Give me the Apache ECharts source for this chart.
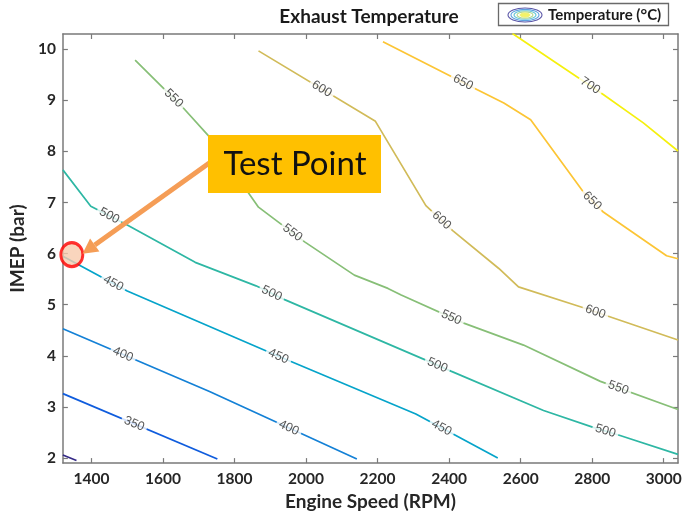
<!DOCTYPE html>
<html><head><meta charset="utf-8">
<script src="https://cdn.jsdelivr.net/npm/echarts@6/dist/echarts.min.js"></script>
<style>html,body{margin:0;padding:0;background:#fff}#c{width:697px;height:516px}</style>
</head><body><div id="c"></div>
<script>
// ---- data ----
const levels = [300, 350, 400, 450, 500, 550, 600, 650, 700];
const c300 = [[1320, 2.06], [1358, 1.95]];
const c350 = [[1320, 3.26], [1752, 1.98]];
const c400 = [[1320, 4.53], [1730, 3.30], [2142, 1.98]];
const c450 = [[1320, 5.95], [1500, 5.27], [1923, 3.99], [2307, 2.86], [2536, 2.00]];
const c500 = [[1320, 7.64], [1398, 6.93], [1500, 6.56], [1690, 5.83], [1860, 5.37], [1940, 5.10], [2330, 3.93], [2405, 3.70], [2664, 2.93], [2803, 2.60], [2878, 2.44], [3040, 2.07]];
const c550 = [[1522, 9.79], [1653, 8.88], [1728, 8.30], [1867, 6.91], [1996, 6.23], [2135, 5.58], [2229, 5.32], [2266, 5.19], [2441, 4.64], [2608, 4.21], [2823, 3.50], [3040, 2.95]];
const c600 = [[1867, 9.97], [2194, 8.59], [2335, 6.94], [2410, 6.45], [2539, 5.71], [2594, 5.35], [2767, 4.96], [3040, 4.31]];
const c650 = [[2215, 10.15], [2479, 9.21], [2553, 8.95], [2628, 8.62], [2776, 7.20], [2832, 6.81], [3008, 5.96], [3040, 5.90]];
const c700 = [[2577, 10.31], [2832, 9.11], [2943, 8.56], [3040, 8.01]];
const contours = [c300, c350, c400, c450, c500, c550, c600, c650, c700];
// contour label anchors: [rpm, imep, level]
const contourLabels = [
  [1519, 2.66, 350],
  [1486, 3.99, 400], [1950, 2.56, 400],
  [1458, 5.38, 450], [1923, 3.99, 450], [2377, 2.56, 450],
  [1449, 6.73, 500], [1904, 5.22, 500], [2368, 3.83, 500], [2837, 2.53, 500],
  [1631, 9.05, 550], [1960, 6.39, 550], [2405, 4.73, 550], [2873, 3.37, 550],
  [2043, 9.21, 600], [2377, 6.64, 600], [2809, 4.86, 600],
  [2438, 9.34, 650], [2795, 7.00, 650],
  [2790, 9.24, 700]
];
const xTicks = [1400, 1600, 1800, 2000, 2200, 2400, 2600, 2800, 3000];
const yTicks = [2, 3, 4, 5, 6, 7, 8, 9, 10];
const testPoint = [1345, 5.98];
const arrowFrom = [1742, 7.84];
const arrowTo = [1375, 6.00];
const titleText = 'Exhaust Temperature';
const annotationText = 'Test Point';

// ---- style ----
const colors = ['#352a87', '#0f5cdd', '#1481d6', '#06a4ca', '#2eb7a4', '#87bf77', '#d1bb59', '#fcc535', '#f5f00e'];
const FONT = 'Lato';
const AX = '#7a7a7a';
const TXT = '#262626';
const XMIN = 1320, XMAX = 3040, YMIN = 1.9, YMAX = 10.3;

const chart = echarts.init(document.getElementById('c'));
const axisCommon = {
  type: 'value',
  axisLine: { show: true, onZero: false, lineStyle: { color: AX, width: 1.5 } },
  axisTick: { show: true, inside: true, length: 5, lineStyle: { color: AX, width: 1.2 } },
  splitLine: { show: false }
};
const series = contours.map((pts, i) => ({
  type: 'line', name: String(levels[i]), data: pts, showSymbol: false, symbol: 'none',
  lineStyle: { color: colors[i], width: 1.7 }, z: 2, silent: true, animation: false
}));
series.push({
  id: 'testpt', type: 'scatter', data: [testPoint], symbol: 'circle', symbolSize: [22, 24], clip: false,
  itemStyle: { color: '#F8CBAD', borderColor: '#FF0000', borderWidth: 3 }, z: 6, animation: false
});

chart.setOption({
  animation: false,
  grid: { left: 60, right: 19, top: 34, bottom: 51 },
  xAxis: [
    Object.assign({}, axisCommon, {
      min: XMIN, max: XMAX, position: 'bottom',
      axisTick: Object.assign({}, axisCommon.axisTick, { customValues: xTicks }),
      axisLabel: { customValues: xTicks, formatter: v => String(v), color: TXT, fontFamily: FONT, fontWeight: 'bold', fontSize: 15.5, margin: 8 },
      name: 'Engine Speed (RPM)', nameLocation: 'middle', nameGap: 26,
      nameTextStyle: { color: TXT, fontFamily: FONT, fontWeight: 'bold', fontSize: 19 }
    }),
    Object.assign({}, axisCommon, {
      min: XMIN, max: XMAX, position: 'top',
      axisTick: Object.assign({}, axisCommon.axisTick, { customValues: xTicks }),
      axisLabel: { show: false }
    })
  ],
  yAxis: [
    Object.assign({}, axisCommon, {
      min: YMIN, max: YMAX, position: 'left',
      axisTick: Object.assign({}, axisCommon.axisTick, { customValues: yTicks }),
      axisLabel: { customValues: yTicks, formatter: v => String(v), color: TXT, fontFamily: FONT, fontWeight: 'bold', fontSize: 15.5, margin: 7 },
      name: 'IMEP (bar)', nameLocation: 'middle', nameGap: 24,
      nameTextStyle: { color: TXT, fontFamily: FONT, fontWeight: 'bold', fontSize: 19 }
    }),
    Object.assign({}, axisCommon, {
      min: YMIN, max: YMAX, position: 'right',
      axisTick: Object.assign({}, axisCommon.axisTick, { customValues: yTicks }),
      axisLabel: { show: false }
    })
  ],
  series: series
});

// ---- contour labels: snap to line and rotate along it ----
const px = p => chart.convertToPixel({ gridIndex: 0 }, p);
const labelData = contourLabels.map(([x, y, lv]) => {
  const pts = contours[levels.indexOf(lv)].map(px);
  const p = px([x, y]);
  let best = null;
  for (let i = 0; i < pts.length - 1; i++) {
    const a = pts[i], b = pts[i + 1];
    const dx = b[0] - a[0], dy = b[1] - a[1];
    const L2 = dx * dx + dy * dy;
    let t = ((p[0] - a[0]) * dx + (p[1] - a[1]) * dy) / L2;
    t = Math.max(0, Math.min(1, t));
    const q = [a[0] + t * dx, a[1] + t * dy];
    const d = Math.hypot(q[0] - p[0], q[1] - p[1]);
    if (!best || d < best.d) best = { d, q, ang: Math.atan2(dy, dx) };
  }
  let deg = -best.ang * 180 / Math.PI;
  if (deg > 90) deg -= 180; if (deg < -90) deg += 180;
  return { value: chart.convertFromPixel({ gridIndex: 0 }, best.q), name: String(lv), label: { rotate: deg } };
});

const tip = px(arrowTo), tail = px(arrowFrom);
const ang = Math.atan2(tip[1] - tail[1], tip[0] - tail[0]);
const headL = 15, headW = 8;
const base = [tip[0] - headL * Math.cos(ang), tip[1] - headL * Math.sin(ang)];
const nx = -Math.sin(ang), ny = Math.cos(ang);
const arrowColor = '#F59D56';

chart.setOption({
  series: series.concat([{
    id: 'clabels', type: 'scatter', data: labelData, symbolSize: 2, itemStyle: { color: 'rgba(0,0,0,0)' }, z: 4, clip: false,
    label: {
      show: true, position: 'inside', formatter: p => p.name, color: '#2b2b2b', fontFamily: 'Liberation Sans',
      fontSize: 12.5, backgroundColor: '#ffffff', padding: [1, 3]
    },
    emphasis: { disabled: true },
    labelLayout: { hideOverlap: false }, animation: false
  }]),
  graphic: [
    { type: 'text', x: 369, y: 17, z: 50,
      style: { text: titleText, fill: '#1a1a1a', font: 'bold 19px ' + FONT, textAlign: 'center', textVerticalAlign: 'middle' } },
    { type: 'rect', x: 498.5, y: 3.5, z: 50, shape: { width: 170, height: 22 },
      style: { fill: '#fff', stroke: '#6a6a6a', lineWidth: 1.3 } },
    { type: 'ellipse', z: 51, shape: { cx: 525, cy: 15, rx: 17, ry: 7 }, style: { fill: '#ffffff', stroke: '#5b57a8', lineWidth: 1.1 } },
    { type: 'ellipse', z: 51, shape: { cx: 525, cy: 15, rx: 14, ry: 5.6 }, style: { fill: 'none', stroke: '#5ea0e0', lineWidth: 1.1 } },
    { type: 'ellipse', z: 51, shape: { cx: 525, cy: 15, rx: 11, ry: 4.3 }, style: { fill: 'none', stroke: '#6cc8d6', lineWidth: 1.1 } },
    { type: 'ellipse', z: 51, shape: { cx: 525, cy: 15, rx: 8, ry: 3.1 }, style: { fill: 'none', stroke: '#b5d98c', lineWidth: 1.1 } },
    { type: 'ellipse', z: 51, shape: { cx: 525, cy: 15, rx: 5, ry: 2 }, style: { fill: '#f3f26a', stroke: '#f3f26a', lineWidth: 1 } },
    { type: 'text', x: 548, y: 15, z: 51,
      style: { text: '{a|Temperature (}{d|°}{a|C)}', textVerticalAlign: 'middle',
        rich: { a: { font: 'bold 15px ' + FONT, fill: '#1a1a1a' }, d: { font: 'bold 16px ' + FONT, fill: '#1a1a1a' } } } },
    // arrow
    { type: 'line', z: 20, shape: { x1: tail[0], y1: tail[1], x2: base[0], y2: base[1] },
      style: { stroke: arrowColor, lineWidth: 5 } },
    { type: 'polygon', z: 20, shape: { points: [tip, [base[0] + nx * headW, base[1] + ny * headW], [base[0] - nx * headW, base[1] - ny * headW]] },
      style: { fill: arrowColor } },
    // annotation box
    { type: 'rect', x: 208, y: 135, z: 30, shape: { width: 173, height: 58 }, style: { fill: '#FFC000' } },
    { type: 'text', x: 295, y: 164, z: 31,
      style: { text: annotationText, font: '33px ' + FONT, fill: '#111', textAlign: 'center', textVerticalAlign: 'middle' } }
  ]
});
</script></body></html>
